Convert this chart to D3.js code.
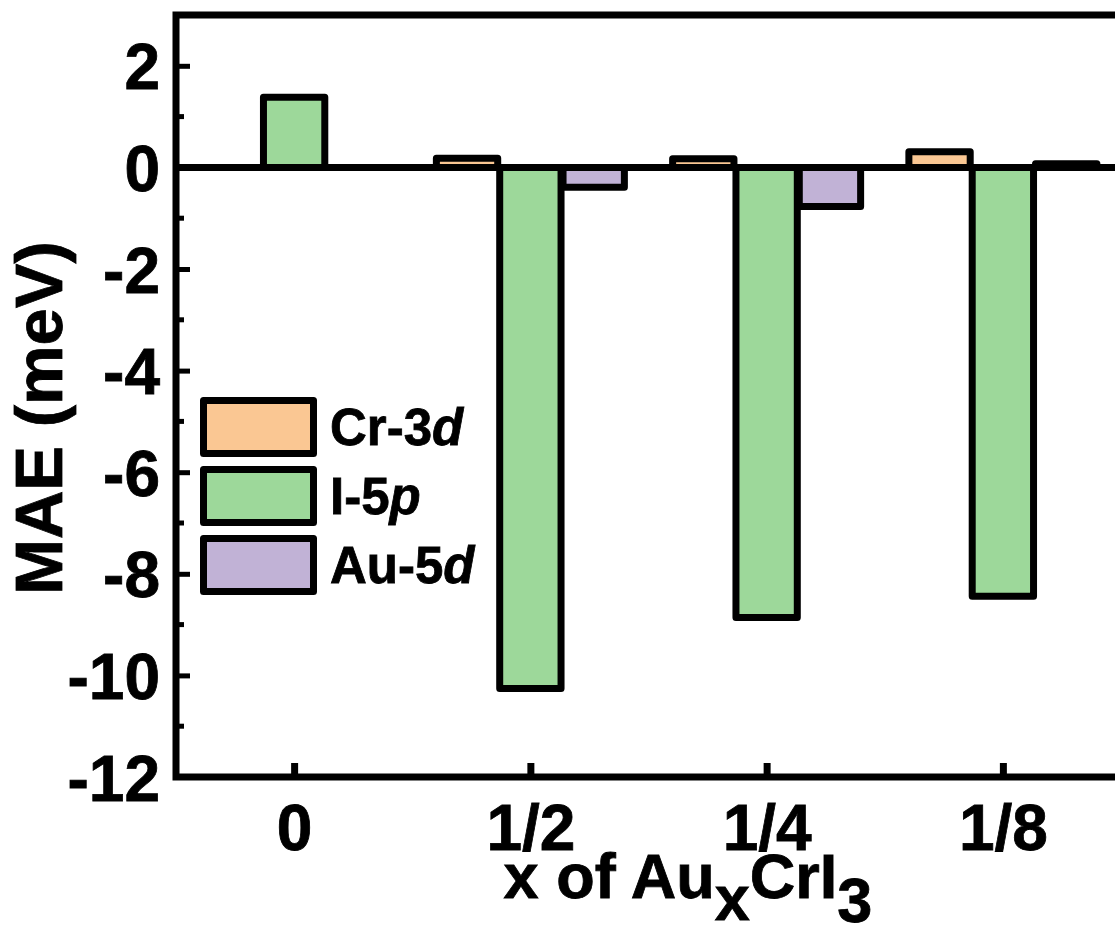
<!DOCTYPE html>
<html>
<head>
<meta charset="utf-8">
<script src="https://cdn.jsdelivr.net/npm/d3@7"></script>
<style>
  body { margin: 0; background: #fff; }
  text { font-family: "Liberation Sans", Arial, sans-serif; font-weight: bold; fill: #000; stroke: #000; stroke-width: 0.8px; }
</style>
</head>
<body>
<script>
// chart data
const categories = ["0", "1/2", "1/4", "1/8"];
const seriesNames = ["Cr-3d", "I-5p", "Au-5d"];
const crValues = [0, 0.18, 0.17, 0.31];
const iValues = [1.38, -10.26, -8.86, -8.44];
const auValues = [0, -0.39, -0.77, 0.07];
const yTicks = [-12, -10, -8, -6, -4, -2, 0, 2];
const yMinorTicks = [-11, -9, -7, -5, -3, -1, 1];
const colours = ["#fac793", "#9dd89a", "#c1b2d6"];

window.onload = function() {
  const w = 1115;
  const h = 925;
  const left = 176, right = 1121, top = 15, bottom = 777;

  let svg = d3.select("body")
              .append("svg")
              .attr("width", w)
              .attr("height", h);

  // scales
  let yScale = d3.scaleLinear()
                 .domain([-12, 3])
                 .range([bottom, top]);
  let x0 = d3.scalePoint()
             .domain(categories)
             .range([left, right])
             .padding(0.5);
  let x1 = d3.scaleBand()
             .domain(seriesNames)
             .range([-95, 95]);

  // flatten the series into bar records
  let seriesValues = [crValues, iValues, auValues];
  let bars = [];
  seriesNames.forEach(function(name, s) {
    categories.forEach(function(cat, i) {
      bars.push({ cat: cat, series: name, value: seriesValues[s][i], colour: colours[s] });
    });
  });

  // bars
  svg.selectAll("rect.bar")
     .data(bars.filter(function(d) { return d.value !== 0; }))
     .enter()
     .append("rect")
     .attr("class", "bar")
     .attr("x", function(d) { return x0(d.cat) + x1(d.series) + 1; })
     .attr("width", x1.bandwidth() - 2)
     .attr("y", function(d) { return yScale(Math.max(0, d.value)); })
     .attr("height", function(d) { return Math.abs(yScale(d.value) - yScale(0)); })
     .attr("fill", function(d) { return d.colour; })
     .attr("stroke", "#000")
     .attr("stroke-width", 7)
     .attr("stroke-linejoin", "round");

  // zero line
  svg.append("line")
     .attr("x1", left).attr("x2", right)
     .attr("y1", yScale(0)).attr("y2", yScale(0))
     .attr("stroke", "#000")
     .attr("stroke-width", 7);

  // frame
  svg.append("rect")
     .attr("x", left).attr("y", top)
     .attr("width", right - left).attr("height", bottom - top)
     .attr("fill", "none")
     .attr("stroke", "#000")
     .attr("stroke-width", 7);

  // y axis, ticks pointing inward
  let yAxis = d3.axisRight(yScale)
                .tickValues(yTicks)
                .tickSize(14)
                .tickFormat(function(d) { return String(d); });
  let yg = svg.append("g")
              .attr("transform", "translate(" + left + ",0)")
              .call(yAxis);
  yg.select(".domain").remove();
  yg.selectAll(".tick line").attr("stroke", "#000").attr("stroke-width", 5);
  yg.selectAll(".tick text")
    .attr("x", -16)
    .attr("dy", "0.36em")
    .attr("text-anchor", "end")
    .style("font-size", "64px");

  // minor y ticks
  svg.selectAll("line.minor")
     .data(yMinorTicks)
     .enter()
     .append("line")
     .attr("class", "minor")
     .attr("x1", left).attr("x2", left + 8)
     .attr("y1", function(d) { return yScale(d); })
     .attr("y2", function(d) { return yScale(d); })
     .attr("stroke", "#000")
     .attr("stroke-width", 5);

  // x axis, ticks pointing inward
  let xAxis = d3.axisTop(x0).tickSize(14);
  let xg = svg.append("g")
              .attr("transform", "translate(0," + bottom + ")")
              .call(xAxis);
  xg.select(".domain").remove();
  xg.selectAll(".tick line").attr("stroke", "#000").attr("stroke-width", 7);
  xg.selectAll(".tick text")
    .attr("y", 73)
    .attr("dy", 0)
    .attr("text-anchor", "middle")
    .style("font-size", "64px");

  // axis titles
  let xTitle = svg.append("text")
                  .attr("x", 688)
                  .attr("y", 898)
                  .attr("text-anchor", "middle")
                  .style("font-size", "63px");
  xTitle.append("tspan").text("x of Au");
  xTitle.append("tspan").attr("dy", 22).text("x");
  xTitle.append("tspan").attr("dy", -22).text("CrI");
  xTitle.append("tspan").attr("dy", 24).text("3");

  svg.append("text")
     .attr("transform", "translate(62,418) rotate(-90)")
     .attr("text-anchor", "middle")
     .style("font-size", "67px")
     .text("MAE (meV)");

  // legend
  let legend = svg.append("g").attr("class", "legend");
  legend.selectAll("rect")
        .data(seriesNames)
        .enter()
        .append("rect")
        .attr("x", 203.5)
        .attr("y", function(d, i) { return 400.5 + i * 69; })
        .attr("width", 110)
        .attr("height", 53)
        .attr("fill", function(d, i) { return colours[i]; })
        .attr("stroke", "#000")
        .attr("stroke-width", 7)
        .attr("stroke-linejoin", "round");

  let labels = legend.selectAll("text")
        .data(seriesNames)
        .enter()
        .append("text")
        .attr("x", 330)
        .attr("y", function(d, i) { return 445 + i * 69; })
        .style("font-size", "51px");
  // orbital letter in italics
  labels.append("tspan").text(function(d) { return d.slice(0, -1); });
  labels.append("tspan").style("font-style", "italic").text(function(d) { return d.slice(-1); });
};
</script>
</body>
</html>
